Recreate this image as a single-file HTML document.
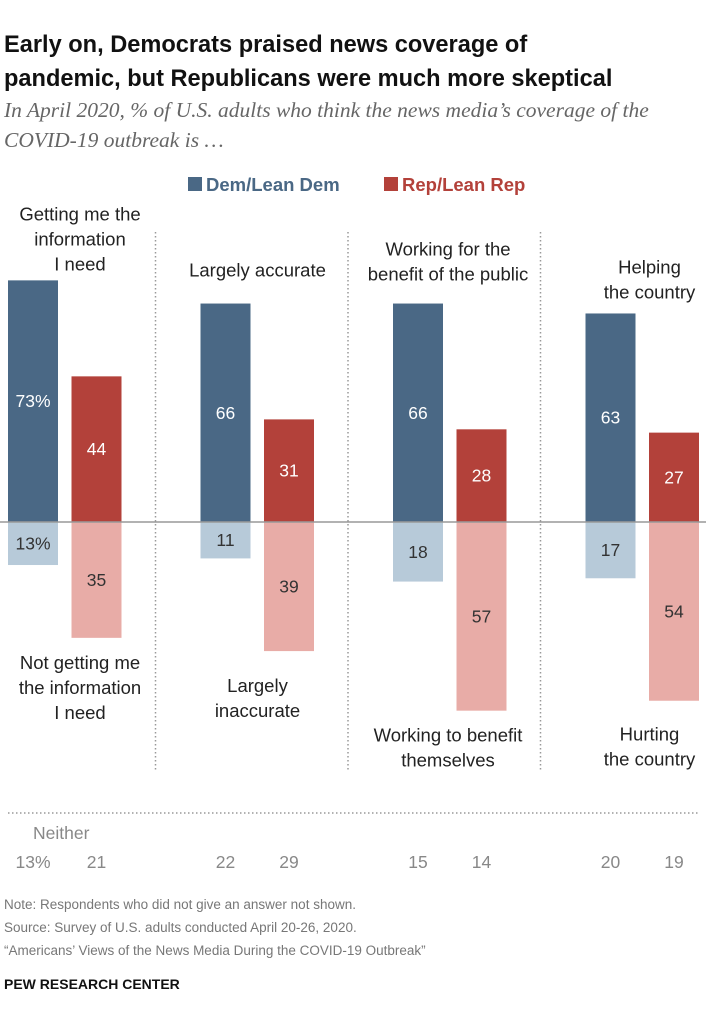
<!DOCTYPE html>
<html><head><meta charset="utf-8"><style>
body{margin:0;background:#fff;width:706px;height:1023px;overflow:hidden}
svg{display:block;font-family:"Liberation Sans",sans-serif}
</style></head><body>
<svg id="c" width="706" height="1023">
<text x="4" y="52" font-size="23.6" font-weight="bold" fill="#111">Early on, Democrats praised news coverage of</text>
<text x="4" y="86" font-size="23.6" font-weight="bold" fill="#111">pandemic, but Republicans were much more skeptical</text>
<text x="4" y="117" font-size="21.5" font-style="italic" fill="#666" font-family="Liberation Serif,serif">In April 2020, % of U.S. adults who think the news media’s coverage of the</text>
<text x="4" y="147" font-size="21.5" font-style="italic" fill="#666" font-family="Liberation Serif,serif">COVID-19 outbreak is …</text>
<rect x="188" y="177" width="14" height="14" fill="#4a6885"/>
<text x="206" y="191" font-size="18.5" font-weight="bold" fill="#4a6885">Dem/Lean Dem</text>
<rect x="384" y="177" width="14" height="14" fill="#b3413a"/>
<text x="402" y="191" font-size="18.5" font-weight="bold" fill="#b3413a">Rep/Lean Rep</text>
<g id="bars"></g>
<line x1="8" y1="813" x2="700" y2="813" stroke="#999" stroke-width="1.5" stroke-dasharray="1.5,2.5"/>
<text x="33" y="839" font-size="17.5" fill="#888">Neither</text>
<text x="4" y="909" font-size="13.5" fill="#777">Note: Respondents who did not give an answer not shown.</text>
<text x="4" y="932" font-size="13.5" fill="#777">Source: Survey of U.S. adults conducted April 20-26, 2020.</text>
<text x="4" y="955" font-size="13.5" fill="#777">“Americans’ Views of the News Media During the COVID-19 Outbreak”</text>
<text x="4" y="989" font-size="14" font-weight="bold" fill="#111">PEW RESEARCH CENTER</text>
</svg>
<script>
const categories=["getting-info","accurate","working-public","helping-country"];
const demPos=[73,66,66,63];
const repPos=[44,31,28,27];
const demNeg=[13,11,18,17];
const repNeg=[35,39,57,54];
const demNeither=[13,22,15,20];
const repNeither=[21,29,14,19];
const topLabels=[["Getting me the","information","I need"],["Largely accurate"],["Working for the","benefit of the public"],["Helping","the country"]];
const botLabels=[["Not getting me","the information","I need"],["Largely","inaccurate"],["Working to benefit","themselves"],["Hurting","the country"]];
const NS="http://www.w3.org/2000/svg",g=document.getElementById('bars');
const base=522,k=3.31,bw=50;
const y=v=>v*k;
const gx=i=>8+i*192.5;
const labelOff=[72,57,55,64];
const topGap=[10,27,23,15];
const botGap=[31,41,31,40];
function mk(t,a,txt){const e=document.createElementNS(NS,t);for(const n in a)e.setAttribute(n,a[n]);if(txt!=null)e.textContent=txt;g.appendChild(e);return e;}
categories.forEach((c,i)=>{
 const dx=gx(i),rx=dx+63.5,cx=dx+labelOff[i];
 let e;
 e=mk('rect',{x:dx,y:base-y(demPos[i]),width:bw,height:y(demPos[i]),fill:'#4a6885'});
 
 e=mk('rect',{x:rx,y:base-y(repPos[i]),width:bw,height:y(repPos[i]),fill:'#b3413a'});
 
 e=mk('rect',{x:dx,y:base,width:bw,height:y(demNeg[i]),fill:'#b7cad9'});
 
 e=mk('rect',{x:rx,y:base,width:bw,height:y(repNeg[i]),fill:'#e8aca7'});
 
 const pct=i==0?'%':'';
 e=mk('text',{x:dx+bw/2,y:base-y(demPos[i])/2+6,'text-anchor':'middle','font-size':17.5,fill:'#fff'},demPos[i]+pct);
 
 e=mk('text',{x:rx+bw/2,y:base-y(repPos[i])/2+6,'text-anchor':'middle','font-size':17.5,fill:'#fff'},repPos[i]);
 
 e=mk('text',{x:dx+bw/2,y:base+y(demNeg[i])/2+6,'text-anchor':'middle','font-size':17.5,fill:'#333'},demNeg[i]+pct);
 
 e=mk('text',{x:rx+bw/2,y:base+y(repNeg[i])/2+6,'text-anchor':'middle','font-size':17.5,fill:'#333'},repNeg[i]);
 
 e=mk('text',{x:dx+bw/2,y:868,'text-anchor':'middle','font-size':17.5,fill:'#888'},demNeither[i]+pct);
 
 e=mk('text',{x:rx+bw/2,y:868,'text-anchor':'middle','font-size':17.5,fill:'#888'},repNeither[i]);
 
 const tl=topLabels[i],tTop=Math.min(base-y(demPos[i]),base-y(repPos[i]))-topGap[i]-(tl.length-1)*25;
 tl.forEach((s,j)=>{e=mk('text',{x:cx,y:tTop+j*25,'text-anchor':'middle','font-size':18.5,fill:'#222'},s);
  });
 const bl=botLabels[i],bTop=base+Math.max(y(demNeg[i]),y(repNeg[i]))+botGap[i];
 bl.forEach((s,j)=>{e=mk('text',{x:cx,y:bTop+j*25,'text-anchor':'middle','font-size':18.5,fill:'#222'},s);
  });
 if(i>0){e=mk('line',{x1:dx-45,y1:232,x2:dx-45,y2:772,stroke:'#999','stroke-width':1.5,'stroke-dasharray':'1.5,2.5'});
  }
});
const bl=mk('line',{x1:0,y1:base,x2:706,y2:base,stroke:'#999','stroke-width':1.5});


</script>
</body></html>
